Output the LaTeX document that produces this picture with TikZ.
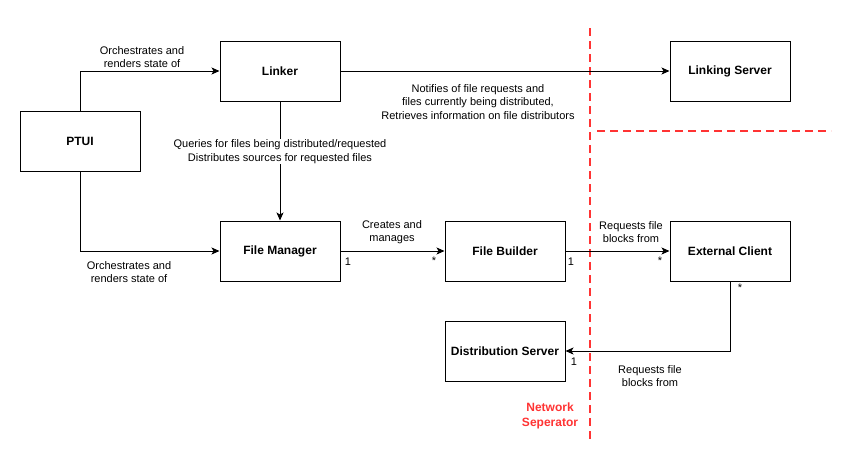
\documentclass[tikz,border=0pt]{standalone}
\usepackage{fontspec}
\setmainfont{Liberation Sans}
\usetikzlibrary{arrows.meta}
\definecolor{netred}{HTML}{FF3333}

\begin{document}
\begin{tikzpicture}[x=1pt,y=-1pt]
			\tikzset{block/.style = {shape=rectangle,draw,line width=1pt,minimum width=120pt,minimum height=60pt,font=\fontsize{12}{14}\selectfont\bfseries}}
			\tikzset{edge/.style = {->,> = {Stealth[length=8pt,width=7pt,inset=2pt]},line width=1pt}}
			\tikzset{lbl/.style = {font=\fontsize{11}{13.5}\selectfont,align=center,inner sep=1pt}}
			\tikzset{sep/.style = {draw=netred,line width=2pt,dash pattern=on 8pt off 5pt}}
			\useasboundingbox (0,0) rectangle (853,463);
			% separator
			\coordinate (septop) at (590,28);
			\coordinate (sepbot) at (590,441);
			\coordinate (sepleft) at (597,131);
			\coordinate (sepright) at (831,131);
			\draw[sep] (septop) -- (sepbot);
			\draw[sep] (sepleft) -- (sepright);
			\node[font=\fontsize{12}{15}\selectfont\bfseries,text=netred,align=center] (sepname) at (550,416) {Network\\Seperator};
			% vertices
			\node[block] (ptui) at (80,141) {PTUI};
			\node[block] (linker) at (280,71) {Linker};
			\node[block] (lserver) at (730,71) {Linking Server};
			\node[block] (fmanager) at (280,251) {File Manager};
			\node[block] (fbuilder) at (505,251) {File Builder};
			\node[block] (eclient) at (730,251) {External Client};
			\node[block] (dserver) at (505,351) {Distribution Server};
			% edges
			\draw[edge] (ptui.north) |- (linker.west);
			\node[lbl] (orchtop) at (142,57) {Orchestrates and\\renders state of};
			\draw[edge] (ptui.south) |- (fmanager.west);
			\node[lbl] (orchbot) at (129,272) {Orchestrates and\\renders state of};
			\draw[edge] (linker) -- (lserver);
			\node[lbl] (notify) at (478,102) {Notifies of file requests and\\files currently being distributed,\\Retrieves information on file distributors};
			\draw[edge] (linker) -- (fmanager) node[pos=0.42, lbl, fill=white] (queries) {Queries for files being distributed/requested\\Distributes sources for requested files};
			\draw[edge] (fmanager) -- (fbuilder);
			\node[lbl] (creates) at (392,232) {Creates and\\manages};
			\node[lbl] (fmone) at (348,262) {1};
			\node[lbl] (fbmany) at (434,261) {*};
			\draw[edge] (fbuilder) -- (eclient);
			\node[lbl] (reqtop) at (631,232) {Requests file\\blocks from};
			\node[lbl] (fbone) at (571,262) {1};
			\node[lbl] (ecmany) at (660,261) {*};
			\draw[edge] (eclient.south) |- (dserver.east);
			\node[lbl] (ecmanyb) at (740,288) {*};
			\node[lbl] (dsone) at (574,362) {1};
			\node[lbl] (reqbot) at (650,376) {Requests file\\blocks from};
		\end{tikzpicture}
\end{document}
